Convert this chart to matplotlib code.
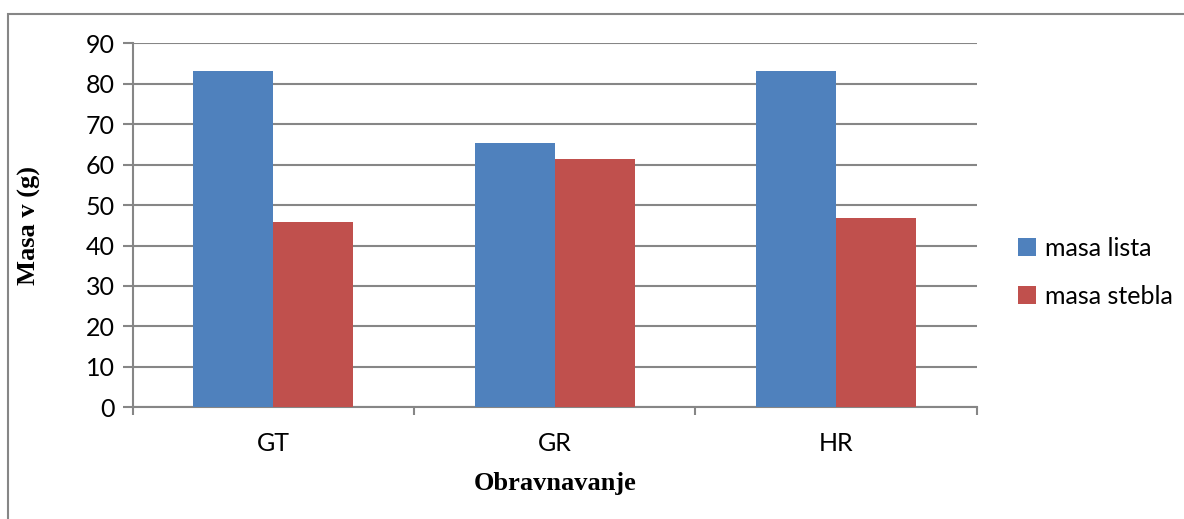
import numpy as np
import matplotlib
matplotlib.use("Agg")
import matplotlib.pyplot as plt
from matplotlib.patches import Rectangle

categories = ["GT", "GR", "HR"]
masa_lista = [83.2, 65.4, 83.2]
masa_stebla = [45.9, 61.5, 46.9]
series_names = ["masa lista", "masa stebla"]
y_ticks = list(range(0, 100, 10))

blue = "#4F81BD"
red = "#C0504D"
grid_gray = "#868686"

plt.rcParams["font.family"] = ["Lato", "DejaVu Sans"]

fig = plt.figure(figsize=(11.84, 5.19), dpi=100)
ax = fig.add_axes([0.1121, 0.2152, 0.7128, 0.7014])

x = np.arange(len(categories))
w = 0.284
ax.bar(x - w / 2, masa_lista, w, color=blue, label=series_names[0], zorder=3)
ax.bar(x + w / 2, masa_stebla, w, color=red, label=series_names[1], zorder=3)

ax.set_xlim(-0.5, len(categories) - 0.5)
ax.set_ylim(0, 90)
ax.set_yticks(y_ticks)
ax.yaxis.grid(True, color=grid_gray, linewidth=1.5, zorder=0)
ax.set_axisbelow(True)

# category boundaries carry the ticks, labels sit in the middle
ax.set_xticks(np.arange(-0.5, len(categories), 1.0))
ax.set_xticklabels([])
ax.set_xticks(x, minor=True)
ax.set_xticklabels(categories, minor=True)
ax.tick_params(axis="x", which="major", length=6, width=1.5, color=grid_gray)
ax.tick_params(axis="x", which="minor", length=0, pad=18, labelsize=18)
ax.tick_params(axis="y", length=7, width=1.5, color=grid_gray, labelsize=18, pad=6)

for s in ["top", "right"]:
    ax.spines[s].set_visible(False)
for s in ["left", "bottom"]:
    ax.spines[s].set_color(grid_gray)
    ax.spines[s].set_linewidth(1.5)

ax.set_ylabel("Masa v (g)", family="Liberation Serif", fontweight="bold",
              fontsize=19)
ax.yaxis.set_label_coords((41 - 132.7) / 844, 0.5)
ax.set_xlabel("Obravnavanje", family="Liberation Serif", fontweight="bold",
              fontsize=19)
ax.xaxis.set_label_coords(0.5, -(472 - 407.3) / 364)

fig.legend(loc="center left", bbox_to_anchor=(1005 / 1184, 1 - 272 / 519),
           frameon=False, fontsize=18, handlelength=0.75, handleheight=0.75,
           handletextpad=0.35, labelspacing=1.0, borderpad=0)

# outer chart frame, only its top and left edges fall inside the image
fig.patches.append(Rectangle((8 / 1184, -0.2), 1.2, 1.2 - 14 / 519,
                             transform=fig.transFigure, fill=False,
                             edgecolor=grid_gray, linewidth=1.5))

fig.savefig("out.png", dpi=100)
